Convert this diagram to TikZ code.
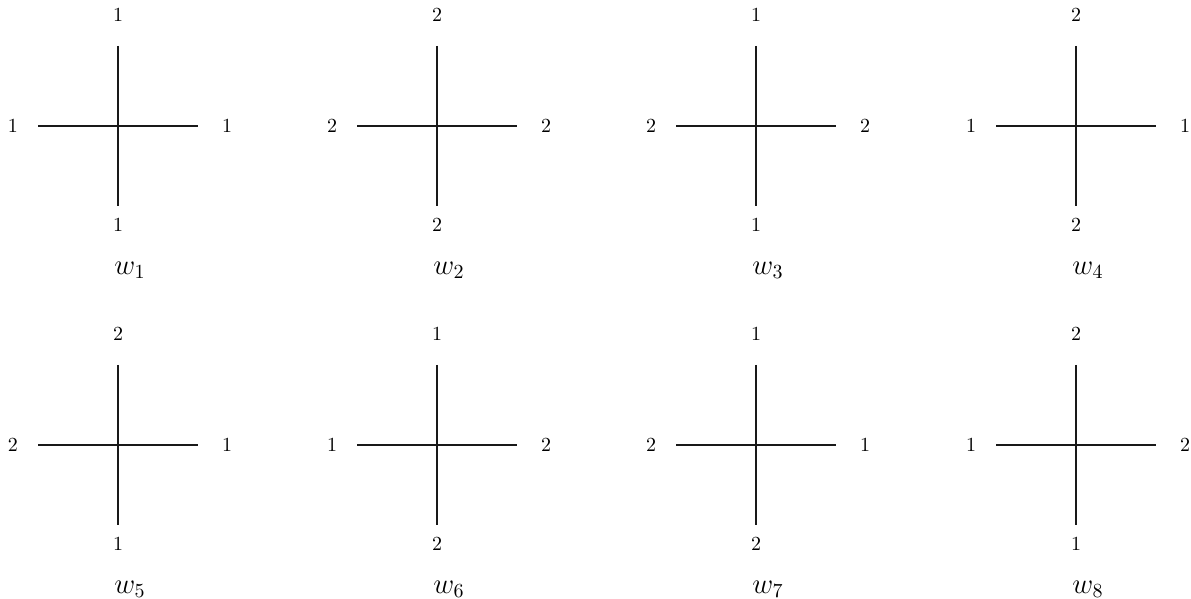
\documentclass[tikz,border=0pt]{standalone}
\usetikzlibrary{positioning}
\tikzset{
  % one arm of a vertex
  arm/.style={draw=black!90, line width=0.75pt},
  % the colour written at an arm end
  spin/.style={font=\normalsize, inner sep=0pt},
  % the weight under a vertex
  wname/.style={font=\Large, inner sep=0pt},
}

\begin{document}
\begin{tikzpicture}[x=0.5pt,y=-0.5pt]
\useasboundingbox (0,0) rectangle (1191,599);

% vertex / x / y / north / east / south / west
\foreach \i/\cx/\cy/\nN/\nE/\nS/\nW in {
    1/118/126/1/1/1/1, 2/437/126/2/2/2/2, 3/756/126/1/2/1/2, 4/1076/126/2/1/2/1,
    5/118/445/2/1/1/2, 6/437/445/1/2/2/1, 7/756/445/1/1/2/2, 8/1076/445/2/2/1/1}{
  \coordinate (v\i) at (\cx,\cy);
  \coordinate (v\i-n) at ([yshift=40pt]v\i);
  \coordinate (v\i-s) at ([yshift=-40pt]v\i);
  \coordinate (v\i-e) at ([xshift=40pt]v\i);
  \coordinate (v\i-w) at ([xshift=-40pt]v\i);
  \draw[arm] (v\i-n) -- (v\i-s);
  \draw[arm] (v\i-w) -- (v\i-e);
  \node[spin] (v\i-ln) at ([yshift=15.5pt]v\i-n) {\nN};
  \node[spin] (v\i-ls) at ([yshift=-9.5pt]v\i-s) {\nS};
  \node[spin] (v\i-le) at ([xshift=14.5pt]v\i-e) {\nE};
  \node[spin] (v\i-lw) at ([xshift=-12.5pt]v\i-w) {\nW};
  \node[wname] (w\i) at ([xshift=6pt,yshift=-72pt]v\i) {$w_{\i}$};
}

\end{tikzpicture}
\end{document}
